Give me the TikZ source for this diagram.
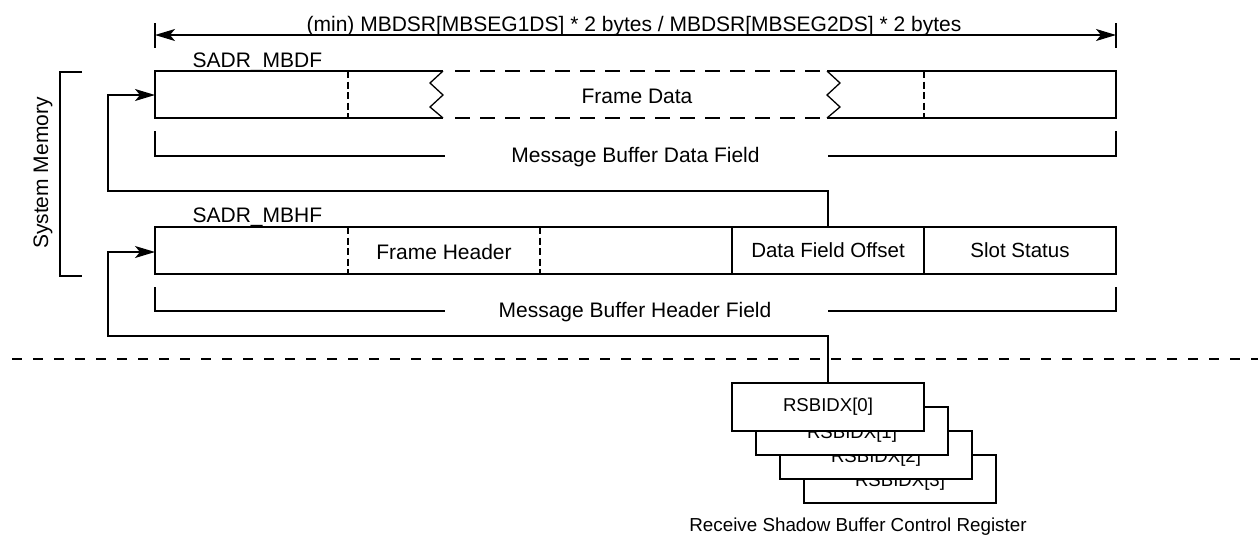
\documentclass[tikz,border=0pt]{standalone}
\usepackage{fontspec}
\setmainfont{Liberation Sans}
\usetikzlibrary{arrows.meta}
\begin{document}
\begin{tikzpicture}[x=1pt,y=-1pt,line width=1.3pt,line join=miter,
  lbl/.style={font=\fontsize{21}{24}\selectfont,inner sep=0pt},
  smalllbl/.style={font=\fontsize{18.8}{22}\selectfont,inner sep=0pt},
  tip/.style={-{Stealth[length=20pt,width=12pt,inset=5pt]}},
  dimtips/.style={{Stealth[length=20pt,width=12pt,inset=5pt]}-{Stealth[length=20pt,width=12pt,inset=5pt]}},
  divider/.style={dash pattern=on 7pt off 3.5pt,line width=1.2pt},
  fieldbox/.style={draw,minimum height=47pt,inner sep=0pt,font=\fontsize{20.5}{24}\selectfont},
  regbox/.style={draw,fill=white,minimum width=192pt,minimum height=48pt,inner sep=0pt},
  reglbl/.style={font=\fontsize{18.6}{22}\selectfont,inner sep=0pt,yshift=-3pt}
]
\useasboundingbox (0,0) rectangle (1258,536);

% dimension line
\draw (155,23) -- (155,48);
\draw (1116,23) -- (1116,48);
\coordinate (dimL) at (155,35);
\coordinate (dimR) at (1116,35);
\draw[dimtips] (dimL) -- (dimR);
\node[lbl,anchor=base] (dimtxt) at (634,31) {(min) MBDSR[MBSEG1DS] * 2 bytes / MBDSR[MBSEG2DS] * 2 bytes};

% data row
\node[lbl,anchor=base west] (sadrdf) at (192,67) {SADR\_MBDF};
\draw (443,71) -- (155,71) -- (155,118) -- (443,118);
\draw (443,71) -- (430,83) -- (443,95) -- (430,107) -- (443,118);
\draw (827,71) -- (1116,71) -- (1116,118) -- (827,118);
\draw (827,71) -- (840,83) -- (827,95) -- (840,107) -- (827,118);
\draw[dash pattern=on 15pt off 10pt] (455,71) -- (820,71);
\draw[dash pattern=on 15pt off 10pt] (455,118) -- (820,118);
\draw[divider] (348,71) -- (348,118);
\draw[divider] (924,71) -- (924,118);
\node[lbl] (framedata) at (637,96) {Frame Data};
\coordinate (dataIn) at (155,95);

% data field bracket
\node[lbl] (dfield) at (635.5,157) {Message Buffer Data Field};
\draw (155,131) -- (155,156) -- (445,156);
\draw (828,156) -- (1116,156) -- (1116,131);

% header row
\node[lbl,anchor=base west] (sadrhf) at (192,222) {SADR\_MBHF};
\node[fieldbox,minimum width=577pt] (fhdr) at (443.5,250.5) {};
\draw[divider] (348,227) -- (348,274);
\draw[divider] (540,227) -- (540,274);
\node[lbl] (fhtxt) at (444,252) {Frame Header};
\node[fieldbox,minimum width=192pt] (dfo) at (828,250.5) {Data Field Offset};
\node[fieldbox,minimum width=192pt] (slot) at (1020,250.5) {Slot Status};
\coordinate (hdrIn) at (155,252);

% header field bracket
\node[lbl] (hfield) at (635,312) {Message Buffer Header Field};
\draw (155,287) -- (155,311) -- (445,311);
\draw (828,311) -- (1116,311) -- (1116,287);

% system memory bracket
\draw (82,72) -- (60,72) -- (60,276) -- (82,276);
\node[lbl,rotate=90] (sysmem) at (43,173) {System Memory};

% separator
\draw[dash pattern=on 10pt off 11pt] (12,359) -- (1258,359);

% register stack (back to front)
\node[regbox] (rs3) at (900,479) {};
\node[reglbl] (rs3t) at (rs3.center) {RSBIDX[3]};
\node[regbox] (rs2) at (876,455) {};
\node[reglbl] (rs2t) at (rs2.center) {RSBIDX[2]};
\node[regbox] (rs1) at (852,431) {};
\node[reglbl] (rs1t) at (rs1.center) {RSBIDX[1]};
\node[regbox] (rs0) at (828,407) {};
\node[reglbl,yshift=3pt] (rs0t) at (rs0.center) {RSBIDX[0]};
\node[smalllbl,anchor=base] (rsbcr) at (858,531) {Receive Shadow Buffer Control Register};

% connectors
\draw[tip] (dfo.north) |- (108,191) |- (dataIn);
\draw[tip] (rs0.north) |- (108,336) |- (hdrIn);
\end{tikzpicture}
\end{document}
